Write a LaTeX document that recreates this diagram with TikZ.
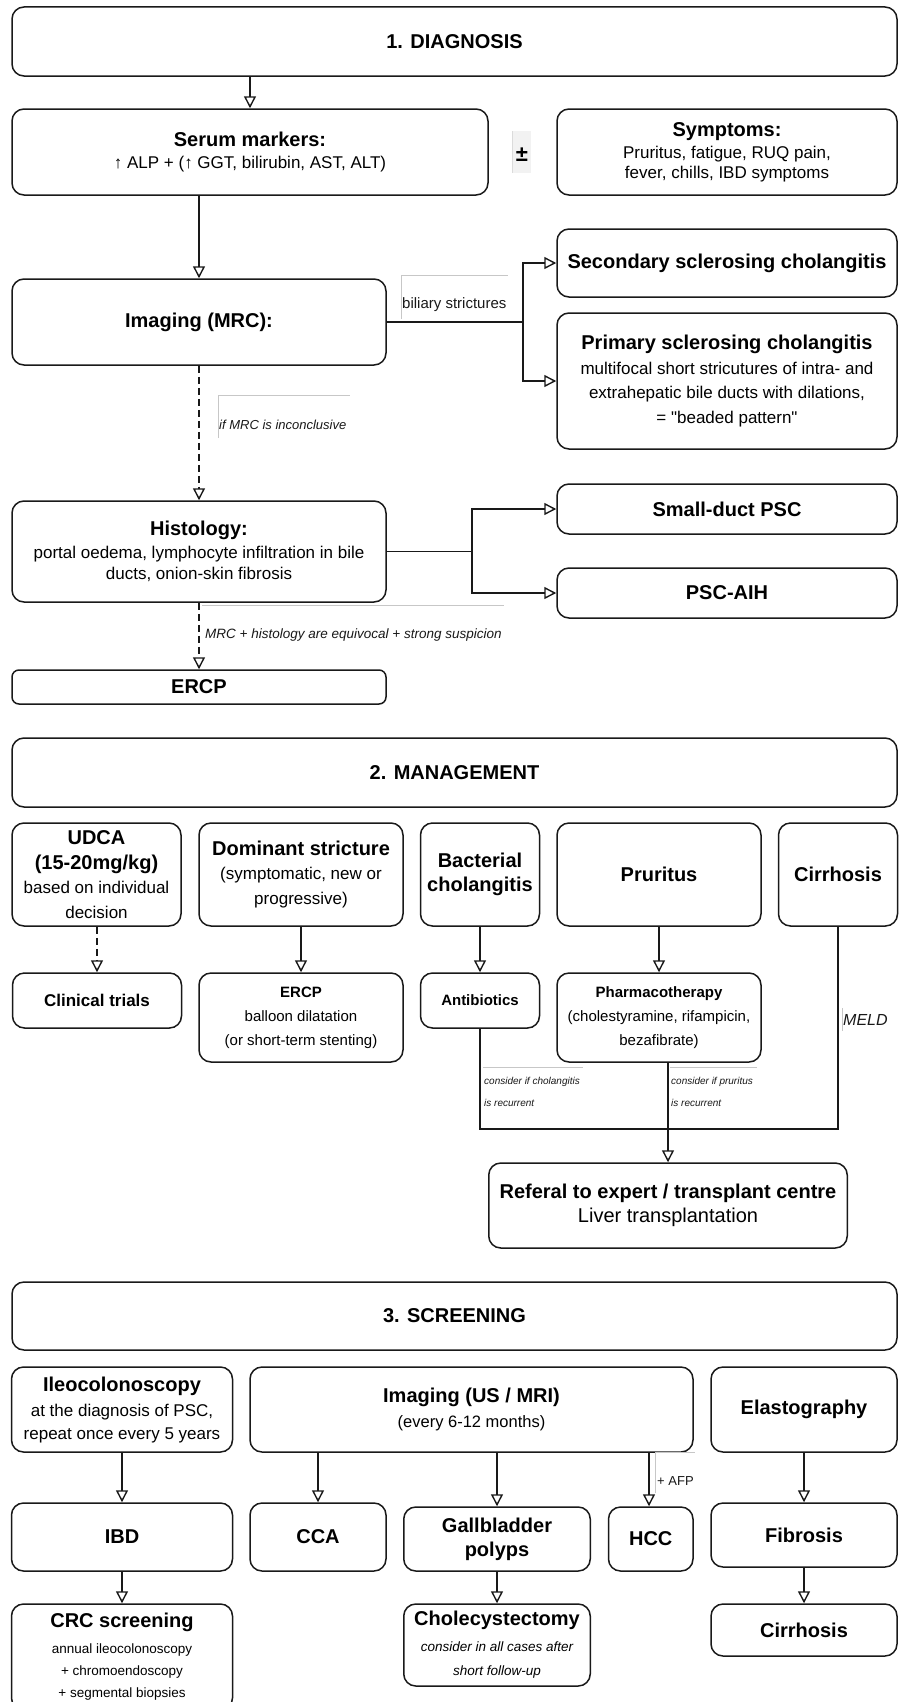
\documentclass[tikz,border=0pt]{standalone}
\usepackage{fontspec}
\setmainfont{Liberation Sans}[Ligatures=TeXOff]
\usetikzlibrary{arrows.meta}
\newcommand{\fT}{\fontsize{20}{24}\selectfont\bfseries}
\begin{document}
\begin{tikzpicture}[x=1pt,y=-1pt,
  bx/.style={draw=black!90, line width=1.5pt, rounded corners=12pt, align=center, inner sep=0pt, text=black},
  bxs/.style={bx, rounded corners=7pt},
  arr/.style={line width=1.6pt, draw=black!90, -{Triangle[open, width=12pt, length=12pt, line width=1.4pt]}},
  darr/.style={arr, dash pattern=on 7pt off 4pt},
  ln/.style={line width=1.6pt, draw=black!90},
  lbl/.style={inner sep=0pt, anchor=west, text=black!90},
  gl/.style={draw=black!22, line width=0.8pt}]
\path[use as bounding box] (0,0) rectangle (899,1702);
\fill[white] (0,0) rectangle (899,1702);
\clip (0,0) rectangle (899,1702);

% ---------- 1. DIAGNOSIS ----------
\node[bx, minimum width=885pt, minimum height=69pt, font=\fT] (diag) at (454.5,41.5) {1. DIAGNOSIS};
\node[bx, minimum width=476pt, minimum height=86pt, font=\fontsize{17}{22}\selectfont] (serum) at (250,152)
  {{\fT Serum markers:}\\↑ ALP + (↑ GGT, bilirubin, AST, ALT)};
\fill[black!5] (512,131) rectangle (531,173);
\draw[black!14, line width=0.8pt] (512,131) -- (512,173);
\node[inner sep=0pt, font=\fontsize{22}{22}\selectfont\bfseries] (pm) at (522,155) {±};
\node[bx, minimum width=340pt, minimum height=86pt, font=\fontsize{17}{19.5}\selectfont] (symp) at (727,152)
  {{\fT Symptoms:}\\[3pt]Pruritus, fatigue, RUQ pain,\\fever, chills, IBD symptoms};
\draw[arr] (diag.south -| serum.north) -- (serum.north);

\node[bx, minimum width=374pt, minimum height=86pt, font=\fT] (mrc) at (199,322) {Imaging (MRC):};
\draw[arr] (serum.south -| mrc.north) -- (mrc.north);

\node[bx, minimum width=340pt, minimum height=68pt, font=\fT] (ssc) at (727,263) {Secondary sclerosing cholangitis};
\node[bx, minimum width=340pt, minimum height=136pt, font=\fontsize{17}{24.5}\selectfont] (psc) at (727,381)
  {{\fT Primary sclerosing cholangitis}\\multifocal short stricutures of intra- and\\extrahepatic bile ducts with dilations,\\= "beaded pattern"};
\coordinate (j1) at (523,322);
\draw[ln] (mrc.east) -- (j1);
\draw[arr] (j1) |- (ssc.west);
\draw[arr] (j1) |- (psc.west);
\draw[gl] (401,319) -- (401,275) -- (508,275);
\node[lbl, font=\fontsize{15}{18}\selectfont] (lb1) at (402,305) {biliary strictures};

\node[bx, minimum width=374pt, minimum height=101pt, font=\fontsize{17}{21.5}\selectfont] (hist) at (199,551.5)
  {{\fT Histology:}\\[1pt]portal oedema, lymphocyte infiltration in bile\\ducts, onion-skin fibrosis};
\draw[darr] (mrc.south) -- (hist.north);
\draw[gl] (218,438) -- (218,395) -- (350,395);
\node[lbl, font=\fontsize{13}{16}\selectfont\itshape] (lb2) at (219,425) {if MRC is inconclusive};

\node[bx, minimum width=340pt, minimum height=50pt, font=\fT] (sdp) at (727,509) {Small-duct PSC};
\node[bx, minimum width=340pt, minimum height=50pt, font=\fT] (aih) at (727,593) {PSC-AIH};
\coordinate (j2) at (472,551.5);
\draw[ln] (hist.east) -- (j2);
\draw[arr] (j2) |- (sdp.west);
\draw[arr] (j2) |- (aih.west);

\node[bxs, minimum width=374pt, minimum height=34pt, font=\fT] (ercp) at (199,687) {ERCP};
\draw[darr] (hist.south) -- (ercp.north);
\draw[gl] (202,605) -- (504,605);
\node[lbl, font=\fontsize{13.5}{16}\selectfont\itshape] (lb3) at (205,635) {MRC + histology are equivocal + strong suspicion};

% ---------- 2. MANAGEMENT ----------
\node[bx, minimum width=885pt, minimum height=69pt, font=\fT] (mgmt) at (454.5,772.5) {2. MANAGEMENT};

\node[bx, minimum width=169pt, minimum height=103pt, font=\fontsize{17}{24.5}\selectfont] (udca) at (96.5,874.5)
  {{\fT UDCA}\\{\fT (15-20mg/kg)}\\based on individual\\decision};
\node[bx, minimum width=204pt, minimum height=103pt, font=\fontsize{17}{24.5}\selectfont] (dom) at (301,874.5)
  {{\fT Dominant stricture}\\(symptomatic, new or\\progressive)};
\node[bx, minimum width=119pt, minimum height=103pt, font=\fT] (bact) at (480,874.5) {Bacterial\\cholangitis};
\node[bx, minimum width=204pt, minimum height=103pt, font=\fT] (prur) at (659,874.5) {Pruritus};
\node[bx, minimum width=119pt, minimum height=103pt, font=\fT] (cirr) at (838,874.5) {Cirrhosis};

\node[bx, minimum width=169pt, minimum height=55pt, font=\fontsize{17}{20}\selectfont\bfseries] (trial) at (97,1000.5) {Clinical trials};
\node[bx, minimum width=204pt, minimum height=89pt, font=\fontsize{15}{24}\selectfont] (ercp2) at (301,1017.5)
  {{\bfseries ERCP}\\balloon dilatation\\(or short-term stenting)};
\node[bx, minimum width=119pt, minimum height=55pt, font=\fontsize{15}{18}\selectfont\bfseries] (anti) at (480,1000.5) {Antibiotics};
\node[bx, minimum width=204pt, minimum height=89pt, font=\fontsize{15}{24}\selectfont] (pharm) at (659,1017.5)
  {{\bfseries Pharmacotherapy}\\(cholestyramine, rifampicin,\\bezafibrate)};

\draw[darr] (trial.north |- udca.south) -- (trial.north);
\draw[arr] (dom.south) -- (ercp2.north);
\draw[arr] (bact.south) -- (anti.north);
\draw[arr] (prur.south) -- (pharm.north);

\node[bx, minimum width=358.5pt, minimum height=85pt, font=\fontsize{20}{24}\selectfont] (ref) at (668,1205.5)
  {{\bfseries Referal to expert / transplant centre}\\Liver transplantation};
\coordinate (j3) at (480,1129);
\coordinate (j4) at (838,1129);
\draw[ln] (anti.south) -- (j3) -- (j4) -- (cirr.south);
\draw[arr] (ref.north |- pharm.south) -- (ref.north);

\draw[gl] (483,1067) -- (583,1067);
\node[lbl, font=\fontsize{10}{12}\selectfont\itshape] (lb4) at (484,1082) {consider if cholangitis};
\node[lbl, font=\fontsize{10}{12}\selectfont\itshape] (lb5) at (484,1103) {is recurrent};
\draw[gl] (670,1067) -- (757,1067);
\node[lbl, font=\fontsize{10}{12}\selectfont\itshape] (lb6) at (671,1082) {consider if pruritus};
\node[lbl, font=\fontsize{10}{12}\selectfont\itshape] (lb7) at (671,1103) {is recurrent};
\draw[gl] (842,1008) -- (842,1031);
\node[lbl, font=\fontsize{16}{18}\selectfont\itshape] (lb8) at (843,1020) {MELD};

% ---------- 3. SCREENING ----------
\node[bx, minimum width=885pt, minimum height=68pt, font=\fT] (scr) at (454.5,1316) {3. SCREENING};

\node[bx, minimum width=221pt, minimum height=85pt, font=\fontsize{17}{23}\selectfont] (ileo) at (122,1409.5)
  {{\fT Ileocolonoscopy}\\[2pt]at the diagnosis of PSC,\\repeat once every 5 years};
\node[bx, minimum width=443pt, minimum height=85pt, font=\fontsize{16.5}{25}\selectfont] (imus) at (471.5,1409.5)
  {{\fT Imaging (US / MRI)}\\(every 6-12 months)};
\node[bx, minimum width=186pt, minimum height=85pt, font=\fT] (elas) at (804,1409.5) {Elastography};

\node[bx, minimum width=221pt, minimum height=68pt, font=\fT] (ibd) at (122,1537) {IBD};
\node[bx, minimum width=136pt, minimum height=68pt, font=\fT] (cca) at (318,1537) {CCA};
\node[bx, minimum width=186.5pt, minimum height=64pt, font=\fT] (gall) at (497,1539) {Gallbladder\\polyps};
\node[bx, minimum width=84.5pt, minimum height=64pt, font=\fT] (hcc) at (650.75,1539) {HCC};
\node[bx, minimum width=186pt, minimum height=64pt, font=\fT] (fib) at (804,1535) {Fibrosis};

\draw[arr] (ileo.south) -- (ibd.north);
\draw[arr] (cca.north |- imus.south) -- (cca.north);
\draw[arr] (gall.north |- imus.south) -- (gall.north);
\draw[arr] ([xshift=-1.75pt]hcc.north |- imus.south) -- ([xshift=-1.75pt]hcc.north);
\draw[arr] (elas.south) -- (fib.north);
\draw[gl] (655,1493) -- (655,1452.5) -- (695,1452.5);
\node[lbl, font=\fontsize{13}{16}\selectfont] (lb9) at (657,1481) {+ AFP};

\node[bx, minimum width=221pt, minimum height=106pt, font=\fontsize{13.5}{22}\selectfont] (crc) at (122,1657)
  {{\fT CRC screening}\\[4pt]annual ileocolonoscopy\\+ chromoendoscopy\\+ segmental biopsies};
\node[bx, minimum width=186.5pt, minimum height=82pt, font=\fontsize{13.5}{24}\selectfont] (chol) at (497,1645)
  {{\fT Cholecystectomy}\\[2pt]{\itshape consider in all cases after}\\{\itshape short follow-up}};
\node[bx, minimum width=186pt, minimum height=52pt, font=\fT] (cirr2) at (804,1630) {Cirrhosis};

\draw[arr] (ibd.south) -- (crc.north);
\draw[arr] (gall.south) -- (chol.north);
\draw[arr] (fib.south) -- (cirr2.north);
\end{tikzpicture}
\end{document}
